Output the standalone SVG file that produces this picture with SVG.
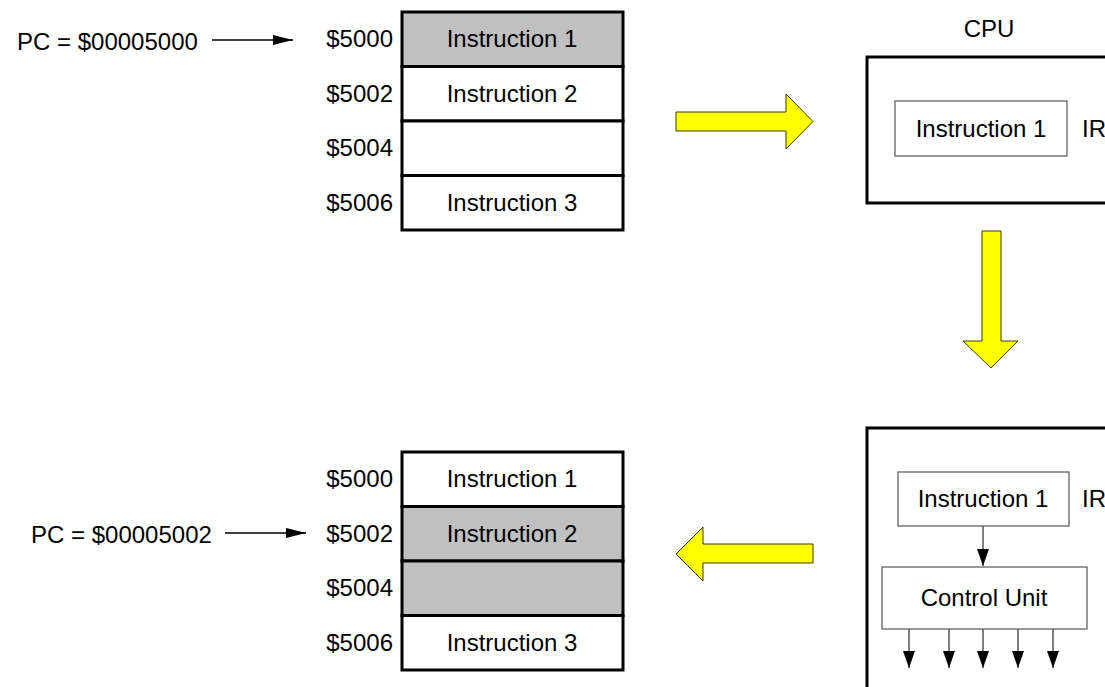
<svg xmlns="http://www.w3.org/2000/svg" width="1105" height="687" viewBox="0 0 1105 687">
  <style>
    text { font-family: "Liberation Sans", Arial, sans-serif; font-size: 24px; fill: #000; }
    .mid { text-anchor: middle; }
    .end { text-anchor: end; }
    .frame { fill: none; stroke: #000; stroke-width: 3; }
    .cell { stroke: #000; stroke-width: 3; }
    .white { fill: #fff; }
    .grey { fill: #c0c0c0; }
    .reg { fill: #fff; stroke: #555; stroke-width: 1.2; }
    .big { fill: #ffff00; stroke: #3a3a00; stroke-width: 1; stroke-linejoin: miter; }
    .wire { stroke: #000; stroke-width: 1.3; fill: none; }
    .sig { stroke: #555; stroke-width: 1.5; fill: none; }
  </style>
  <defs>
    <marker id="ah" viewBox="0 0 20 10" refX="20" refY="5" markerWidth="20" markerHeight="10" markerUnits="userSpaceOnUse" orient="auto">
      <path d="M0,0 L20,5 L0,10 Z" fill="#000"/>
    </marker>
    <marker id="ahd" viewBox="0 0 17 12" refX="17" refY="6" markerWidth="17" markerHeight="12" markerUnits="userSpaceOnUse" orient="auto">
      <path d="M0,0 L17,6 L0,12 Z" fill="#000"/>
    </marker>
  </defs>

  <!-- memory before fetch -->
  <g id="mem-top">
    <rect class="cell grey" x="402" y="12" width="221" height="54.5"/>
    <rect class="cell white" x="402" y="66.5" width="221" height="54.5"/>
    <rect class="cell white" x="402" y="121" width="221" height="54.5"/>
    <rect class="cell white" x="402" y="175.5" width="221" height="54.5"/>
    <text class="mid" x="512" y="47">Instruction 1</text>
    <text class="mid" x="512" y="101.5">Instruction 2</text>
    <text class="mid" x="512" y="211">Instruction 3</text>
    <text class="end" x="393" y="47">$5000</text>
    <text class="end" x="393" y="101.5">$5002</text>
    <text class="end" x="393" y="156">$5004</text>
    <text class="end" x="393" y="211">$5006</text>
  </g>
  <g id="pc-top">
    <text x="17" y="50">PC = $00005000</text>
  </g>

  <!-- CPU after fetch -->
  <g id="cpu-top">
    <text class="mid" x="989" y="37">CPU</text>
    <path class="frame" d="M1110,57 L867,57 L867,203 L1110,203"/>
    <rect class="reg" x="895" y="101" width="172" height="55"/>
    <text class="mid" x="981" y="136.5">Instruction 1</text>
    <text x="1082" y="137">IR</text>
  </g>

  <!-- CPU decoding -->
  <g id="cpu-bottom">
    <path class="frame" d="M1110,428 L867,428 L867,690"/>
    <rect class="reg" x="898" y="472" width="171" height="54"/>
    <text class="mid" x="983" y="507">Instruction 1</text>
    <text x="1082" y="507">IR</text>
    <rect class="reg" x="882" y="567" width="205" height="62"/>
    <text class="mid" x="984" y="606">Control Unit</text>
  </g>

  <!-- memory after PC increment -->
  <g id="mem-bottom">
    <rect class="cell white" x="402" y="452" width="221" height="54.5"/>
    <rect class="cell grey" x="402" y="506.5" width="221" height="54.5"/>
    <rect class="cell grey" x="402" y="561" width="221" height="54.5"/>
    <rect class="cell white" x="402" y="615.5" width="221" height="54.5"/>
    <text class="mid" x="512" y="487">Instruction 1</text>
    <text class="mid" x="512" y="541.5">Instruction 2</text>
    <text class="mid" x="512" y="651">Instruction 3</text>
    <text class="end" x="393" y="487">$5000</text>
    <text class="end" x="393" y="541.5">$5002</text>
    <text class="end" x="393" y="596">$5004</text>
    <text class="end" x="393" y="651">$5006</text>
  </g>
  <g id="pc-bottom">
    <text x="31" y="543">PC = $00005002</text>
  </g>

  <!-- connectors -->
  <g id="connectors">
    <line class="wire" x1="212" y1="40" x2="293" y2="40" marker-end="url(#ah)"/>
    <line class="wire" x1="225" y1="533" x2="306" y2="533" marker-end="url(#ah)"/>
    <line class="sig" x1="983" y1="526" x2="983" y2="566" marker-end="url(#ahd)"/>
    <line class="sig" x1="909" y1="629" x2="909" y2="668" marker-end="url(#ahd)"/>
    <line class="sig" x1="949" y1="629" x2="949" y2="668" marker-end="url(#ahd)"/>
    <line class="sig" x1="983" y1="629" x2="983" y2="668" marker-end="url(#ahd)"/>
    <line class="sig" x1="1018" y1="629" x2="1018" y2="668" marker-end="url(#ahd)"/>
    <line class="sig" x1="1053" y1="629" x2="1053" y2="668" marker-end="url(#ahd)"/>
    <!-- block arrows between stages -->
    <path class="big" d="M676,112 L786,112 L786,94 L813,121.5 L786,149 L786,131 L676,131 Z"/>
    <path class="big" d="M982,231 L1001,231 L1001,341 L1018,341 L991,368 L963,341 L982,341 Z"/>
    <path class="big" d="M813,544 L703,544 L703,527 L676,554 L703,581 L703,563 L813,563 Z"/>
  </g>
</svg>
